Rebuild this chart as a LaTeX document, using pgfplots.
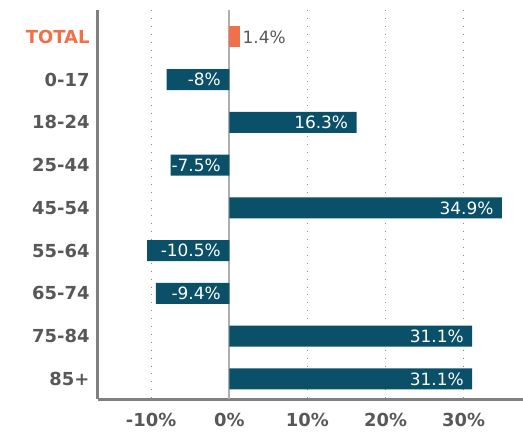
\documentclass[border=0pt]{standalone}
\usepackage{pgfplots}
\pgfplotsset{compat=1.18}
\usepackage{fontspec}
\setmainfont{DejaVu Sans}
\definecolor{barc}{RGB}{11,80,105}
\definecolor{totc}{RGB}{240,112,75}
\definecolor{labc}{RGB}{88,88,88}
\definecolor{spinec}{RGB}{128,128,128}
\definecolor{gridc}{RGB}{140,140,140}
\begin{document}
\begin{tikzpicture}
\begin{axis}[
  at={(0,0)}, anchor=south west,
  scale only axis, width=425bp, height=389bp,
  xmin=-16.8, xmax=37.6,
  ymin=-0.63, ymax=8.47, y dir=reverse,
  axis lines*=left,
  axis line style={-, spinec, line width=3bp},
  xtick={-10,0,10,20,30},
  xticklabels={-10\%,0\%,10\%,20\%,30\%},
  ytick={0,...,8},
  yticklabels={\textcolor{totc}{TOTAL},0-17,18-24,25-44,45-54,55-64,65-74,75-84,85+},
  major tick length=0pt,
  ticklabel style={font=\bfseries\fontsize{18}{20}\selectfont, text=labc},
  xticklabel style={yshift=-11bp},
  yticklabel style={xshift=-5bp},
  xmajorgrids,
  grid style={gridc, line width=1.1bp, dash pattern=on 0.9bp off 7bp},
  clip=false,
]
\draw[gridc!70, line width=2bp] (axis cs:0,-0.63) -- (axis cs:0,8.47);
\addplot[xbar, bar width=21bp, bar shift=0pt, fill=totc, draw=none]
  coordinates {(1.4,0)};
\addplot[xbar, bar width=21bp, bar shift=0pt, fill=barc, draw=none]
  coordinates {(-8,1) (16.3,2) (-7.5,3) (34.9,4) (-10.5,5) (-9.4,6) (31.1,7) (31.1,8)};
% inside labels, anchored at the right end of each bar
\addplot[draw=none, mark=none, point meta=explicit symbolic,
  nodes near coords, nodes near coords align={anchor=east},
  every node near coord/.append style={anchor=east, xshift=-5bp, text=white, font=\fontsize{17}{19}\selectfont}]
  coordinates {(0,1)[-8\%] (16.3,2)[16.3\%] (0,3)[-7.5\%] (34.9,4)[34.9\%] (0,5)[-10.5\%] (0,6)[-9.4\%] (31.1,7)[31.1\%] (31.1,8)[31.1\%]};
\addplot[draw=none, mark=none, point meta=explicit symbolic,
  nodes near coords, nodes near coords align={anchor=west},
  every node near coord/.append style={anchor=west, xshift=-1bp, text=labc, font=\fontsize{17}{19}\selectfont}]
  coordinates {(1.4,0)[1.4\%]};
\end{axis}
\pgfresetboundingbox
\useasboundingbox (-98bp,-37bp) rectangle (425bp,399bp);
\end{tikzpicture}
\end{document}
